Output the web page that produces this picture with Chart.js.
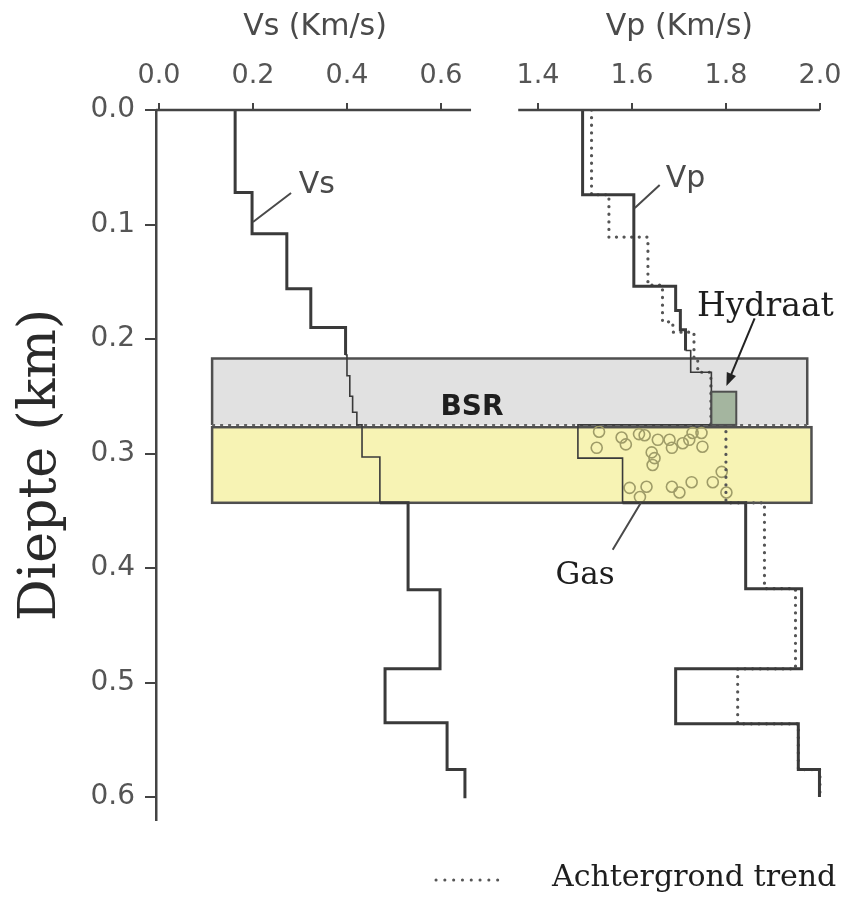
<!DOCTYPE html>
<html>
<head>
<meta charset="utf-8">
<script src="https://cdn.jsdelivr.net/npm/chart.js@4.4.0/dist/chart.umd.min.js"></script>
<style>
  html, body { margin: 0; padding: 0; background: #fff; }
</style>
</head>
<body>
<canvas id="profile" width="847" height="901"></canvas>
<script>
// layer tops (km depth) and velocity of each layer (km/s)
const vsTops   = [0.000, 0.072, 0.108, 0.156, 0.190, 0.214, 0.232, 0.250, 0.264, 0.275, 0.303, 0.343, 0.419, 0.488, 0.535, 0.576];
const vsValues = [0.162, 0.198, 0.272, 0.323, 0.397, 0.400, 0.406, 0.412, 0.421, 0.432, 0.470, 0.530, 0.598, 0.481, 0.613, 0.651];
const vsBottom = 0.601;

const vpTops   = [0.000, 0.074, 0.154, 0.175, 0.192, 0.210, 0.229, 0.275, 0.304, 0.343, 0.418, 0.488, 0.536, 0.576];
const vpValues = [1.495, 1.604, 1.693, 1.703, 1.714, 1.725, 1.769, 1.485, 1.580, 1.842, 1.961, 1.693, 1.954, 1.999];
const vpBottom = 0.600;

// background trend of Vp (dotted)
const trendTops   = [0.000, 0.074, 0.111, 0.153, 0.185, 0.194, 0.218, 0.229, 0.275, 0.343, 0.418, 0.488, 0.536, 0.576];
const trendValues = [1.514, 1.551, 1.634, 1.665, 1.687, 1.732, 1.740, 1.768, 1.800, 1.882, 1.948, 1.825, 1.954, 2.000];
const trendBottom = 0.600;

// gas bubbles in the free gas zone (Vp, depth)
const gasVp    = [1.530, 1.525, 1.578, 1.587, 1.627, 1.642, 1.655, 1.680, 1.685, 1.708, 1.729, 1.748, 1.750, 1.648, 1.644, 1.791, 1.801, 1.772, 1.727, 1.685, 1.701, 1.631, 1.617, 1.595, 1.615, 1.722];
const gasDepth = [0.281, 0.295, 0.286, 0.292, 0.284, 0.299, 0.288, 0.288, 0.295, 0.291, 0.282, 0.282, 0.294, 0.304, 0.310, 0.316, 0.334, 0.325, 0.325, 0.329, 0.334, 0.329, 0.338, 0.330, 0.283, 0.288];

// zones
const hydrateZone = [0.217, 0.275];      // depth range above BSR
const gasZone = [0.277, 0.343];          // depth range below BSR
const zoneLeftVs = 0.113;
const hydrateZoneRightVp = 1.973;
const gasZoneRightVp = 1.982;
const hydrateBlockVp = [1.769, 1.822];
const hydrateBlockDepth = [0.246, 0.275];

// axes
const depthTicks = [0.0, 0.1, 0.2, 0.3, 0.4, 0.5, 0.6];
const vsTicks = [0.0, 0.2, 0.4, 0.6];
const vpTicks = [1.4, 1.6, 1.8, 2.0];
const vsAxisEnd = 0.664;
const vpAxisStart = 1.358;
const vpAxisEnd = 2.0;
const DEPTH_MAX = 0.62;

// both panels share one horizontal scale, Vp is shifted to the right panel
const VP_SHIFT = 0.5936;
const X_MIN = -0.0064;
const X_MAX = 1.4489;
const SPLIT = (vsAxisEnd + vpAxisStart - VP_SHIFT) / 2;

function steps(tops, values, bottom, shift) {
  const pts = [];
  for (let i = 0; i < tops.length; i++) {
    const end = i + 1 < tops.length ? tops[i + 1] : bottom;
    pts.push({x: values[i] - shift, y: tops[i]});
    pts.push({x: values[i] - shift, y: end});
  }
  return pts;
}

// thinner line inside the BSR / gas boxes
function segWidth(ctx) {
  const mid = (ctx.p0.parsed.y + ctx.p1.parsed.y) / 2;
  return (mid > 0.205 && mid < 0.342) ? 1.6 : 3;
}

const SANS = '"DejaVu Sans", sans-serif';
const SERIF = '"DejaVu Serif", serif';

const decor = {
  id: 'decor',
  beforeDatasetsDraw(chart) {
    const {ctx, scales} = chart;
    const xs = v => scales.x.getPixelForValue(v);
    const xp = v => scales.x.getPixelForValue(v - VP_SHIFT);
    const yd = d => scales.y.getPixelForValue(d);
    const left = xs(zoneLeftVs);
    ctx.save();
    // hydrate stability zone
    let top = yd(hydrateZone[0]), bot = yd(hydrateZone[1]), right = xp(hydrateZoneRightVp);
    ctx.fillStyle = '#e1e1e1';
    ctx.fillRect(left, top, right - left, bot - top);
    ctx.strokeStyle = '#4f4f4f';
    ctx.lineWidth = 2.5;
    ctx.beginPath();
    ctx.moveTo(left, bot); ctx.lineTo(left, top); ctx.lineTo(right, top); ctx.lineTo(right, bot);
    ctx.stroke();
    // free gas zone
    top = yd(gasZone[0]); bot = yd(gasZone[1]); right = xp(gasZoneRightVp);
    ctx.fillStyle = '#f7f3b4';
    ctx.fillRect(left, top, right - left, bot - top);
    ctx.strokeRect(left, top, right - left, bot - top);
    // BSR line
    const bsr = yd(hydrateZone[1]);
    ctx.setLineDash([3, 5]);
    ctx.lineWidth = 2;
    ctx.strokeStyle = '#666';
    ctx.beginPath();
    ctx.moveTo(left, bsr); ctx.lineTo(xp(hydrateZoneRightVp), bsr);
    ctx.stroke();
    ctx.restore();
  },
  afterDatasetsDraw(chart) {
    const {ctx, scales, chartArea} = chart;
    const xs = v => scales.x.getPixelForValue(v);
    const xp = v => scales.x.getPixelForValue(v - VP_SHIFT);
    const yd = d => scales.y.getPixelForValue(d);
    ctx.save();

    // hydrate block
    const hx0 = xp(hydrateBlockVp[0]), hx1 = xp(hydrateBlockVp[1]);
    const hy0 = yd(hydrateBlockDepth[0]), hy1 = yd(hydrateBlockDepth[1]);
    ctx.fillStyle = '#a4b59f';
    ctx.fillRect(hx0, hy0, hx1 - hx0, hy1 - hy0);
    ctx.strokeStyle = '#4f4f4f';
    ctx.lineWidth = 2;
    ctx.strokeRect(hx0, hy0, hx1 - hx0, hy1 - hy0);

    // top axis lines, split into two panels
    ctx.strokeStyle = '#444';
    ctx.lineWidth = 2.5;
    ctx.beginPath();
    ctx.moveTo(chartArea.left, chartArea.top); ctx.lineTo(xs(vsAxisEnd), chartArea.top);
    ctx.moveTo(xp(vpAxisStart), chartArea.top); ctx.lineTo(xp(vpAxisEnd), chartArea.top);
    ctx.stroke();

    // axis titles
    ctx.fillStyle = '#4a4a4a';
    ctx.font = '30px ' + SANS;
    ctx.textAlign = 'center';
    ctx.textBaseline = 'middle';
    ctx.fillText('Vs (Km/s)', xs(0.332), chartArea.top - 83);
    ctx.fillText('Vp (Km/s)', xp(1.701), chartArea.top - 83);

    // leaders
    ctx.lineWidth = 2;
    ctx.strokeStyle = '#4a4a4a';
    ctx.beginPath();
    ctx.moveTo(xs(0.200), yd(0.0978)); ctx.lineTo(xs(0.281), yd(0.0725));
    ctx.moveTo(xp(1.606), yd(0.0856)); ctx.lineTo(xp(1.659), yd(0.0655));
    ctx.moveTo(xp(1.619), yd(0.343)); ctx.lineTo(xp(1.559), yd(0.384));
    ctx.stroke();
    ctx.fillText('Vs', xs(0.336), yd(0.066));
    ctx.fillText('Vp', xp(1.714), yd(0.060));

    // hydrate arrow
    const ax0 = xp(1.861), ay0 = yd(0.182), ax1 = xp(1.801), ay1 = yd(0.241);
    const ang = Math.atan2(ay1 - ay0, ax1 - ax0);
    ctx.strokeStyle = '#222';
    ctx.fillStyle = '#222';
    ctx.beginPath();
    ctx.moveTo(ax0, ay0); ctx.lineTo(ax1 - 8 * Math.cos(ang), ay1 - 8 * Math.sin(ang));
    ctx.stroke();
    ctx.beginPath();
    ctx.moveTo(ax1, ay1);
    ctx.lineTo(ax1 - 13 * Math.cos(ang) + 5 * Math.sin(ang), ay1 - 13 * Math.sin(ang) - 5 * Math.cos(ang));
    ctx.lineTo(ax1 - 13 * Math.cos(ang) - 5 * Math.sin(ang), ay1 - 13 * Math.sin(ang) + 5 * Math.cos(ang));
    ctx.closePath();
    ctx.fill();

    // labels
    ctx.fillStyle = '#1e1e1e';
    ctx.font = 'bold 28px ' + SANS;
    ctx.fillText('BSR', xs(0.666), yd(0.260));
    ctx.font = '33px ' + SERIF;
    ctx.fillText('Hydraat', xp(1.884), yd(0.172));
    ctx.font = '31px ' + SERIF;
    ctx.fillText('Gas', xp(1.500), yd(0.407));

    // legend
    const ly = chartArea.bottom + 60;
    ctx.strokeStyle = '#555';
    ctx.lineWidth = 3;
    ctx.lineCap = 'round';
    ctx.setLineDash([0.1, 8.7]);
    ctx.beginPath();
    ctx.moveTo(436, ly); ctx.lineTo(506, ly);
    ctx.stroke();
    ctx.setLineDash([]);
    ctx.font = '30px ' + SERIF;
    ctx.textAlign = 'left';
    ctx.fillText('Achtergrond trend', 552, ly - 2);
    ctx.restore();
  }
};

const ctx = document.getElementById('profile').getContext('2d');
new Chart(ctx, {
  type: 'line',
  data: {
    datasets: [
      {
        label: 'Vs',
        data: steps(vsTops, vsValues, vsBottom, 0),
        borderColor: '#3a3a3a',
        borderWidth: 3,
        pointRadius: 0,
        segment: { borderWidth: segWidth },
        order: 1
      },
      {
        label: 'Vp',
        data: steps(vpTops, vpValues, vpBottom, VP_SHIFT),
        borderColor: '#3a3a3a',
        borderWidth: 3,
        pointRadius: 0,
        segment: { borderWidth: segWidth },
        order: 1
      },
      {
        label: 'Achtergrond trend',
        data: steps(trendTops, trendValues, trendBottom, VP_SHIFT),
        borderColor: '#555',
        borderWidth: 3.2,
        borderDash: [0.1, 7.5],
        borderCapStyle: 'round',
        pointRadius: 0,
        order: 2
      },
      {
        label: 'Gas',
        data: gasVp.map((v, i) => ({x: v - VP_SHIFT, y: gasDepth[i]})),
        showLine: false,
        pointStyle: 'circle',
        pointRadius: 5.5,
        pointBorderWidth: 1.6,
        pointBorderColor: '#9f9c68',
        pointBackgroundColor: 'rgba(0,0,0,0)',
        order: 3
      }
    ]
  },
  options: {
    responsive: false,
    animation: false,
    devicePixelRatio: 1,
    layout: { padding: { left: 0, right: 0, top: 0, bottom: 81 } },
    plugins: {
      legend: { display: false },
      tooltip: { enabled: false }
    },
    scales: {
      x: {
        type: 'linear',
        position: 'top',
        min: X_MIN,
        max: X_MAX,
        afterBuildTicks: s => {
          s.ticks = vsTicks.map(v => ({value: v})).concat(vpTicks.map(v => ({value: v - VP_SHIFT})));
        },
        afterFit: s => { s.height = 110; s.paddingLeft = 0; s.paddingRight = 0; },
        ticks: {
          autoSkip: false,
          maxRotation: 0,
          padding: 11,
          color: '#555',
          font: { family: SANS, size: 27 },
          callback: v => (v > SPLIT ? v + VP_SHIFT : v).toFixed(1)
        },
        grid: { drawOnChartArea: false, drawTicks: true, tickLength: 7, color: '#444', lineWidth: 2 },
        border: { display: false }
      },
      y: {
        type: 'linear',
        reverse: true,
        min: 0,
        max: DEPTH_MAX,
        afterBuildTicks: s => { s.ticks = depthTicks.map(v => ({value: v})); },
        afterFit: s => { s.width = 156; s.paddingTop = 0; s.paddingBottom = 0; },
        ticks: {
          padding: 10,
          color: '#555',
          font: { family: SANS, size: 28 },
          callback: v => v.toFixed(1)
        },
        grid: { drawOnChartArea: false, drawTicks: true, tickLength: 11, color: '#444', lineWidth: 2 },
        border: { display: true, color: '#444', width: 2.5 },
        title: {
          display: true,
          text: 'Diepte (km)',
          color: '#2a2a2a',
          font: { family: SERIF, size: 52 },
          padding: { top: 10, bottom: 0 }
        }
      }
    }
  },
  plugins: [decor]
});
</script>
</body>
</html>
